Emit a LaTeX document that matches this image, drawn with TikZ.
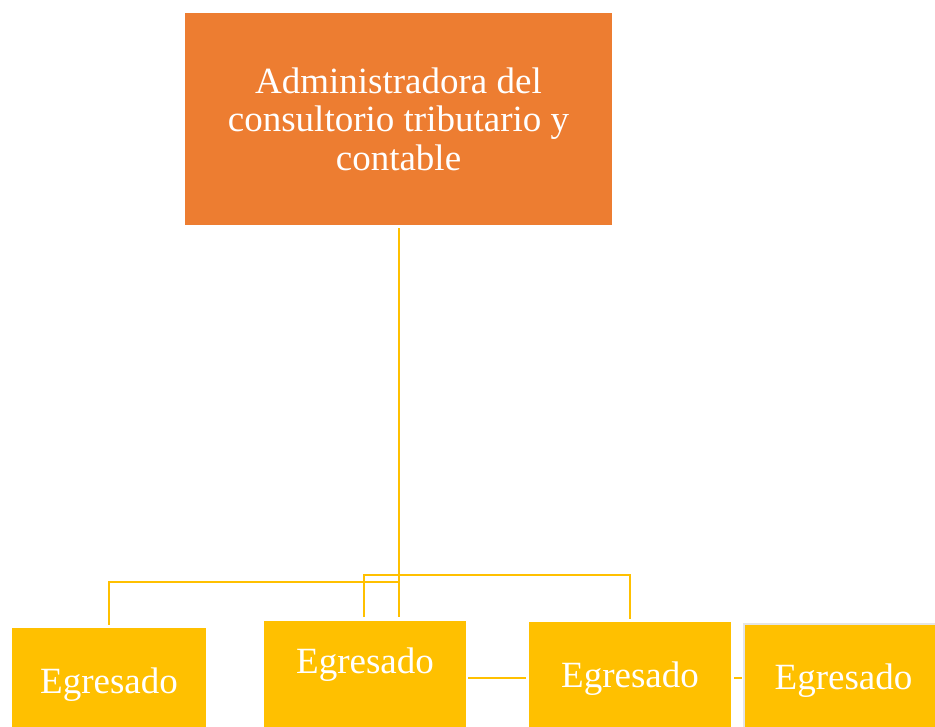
\documentclass[tikz,border=0pt]{standalone}
\usepackage{fontspec}
\setmainfont{Liberation Serif}
\definecolor{orng}{HTML}{ED7D31}
\definecolor{ylw}{HTML}{FFC000}
\begin{document}
\begin{tikzpicture}[x=1pt,y=-1pt,
  bigtext/.style={font=\fontsize{37}{38.5}\selectfont, text=white},
  topbox/.style={fill=orng, inner sep=0pt, minimum width=427pt, minimum height=212pt, align=center, bigtext},
  ybox/.style={fill=ylw, inner sep=0pt, anchor=north west, minimum height=150pt},
  ytext/.style={bigtext, anchor=base, inner sep=0pt},
  conn/.style={draw=ylw, line width=2pt}]
\useasboundingbox (0,0) rectangle (935,727);
\clip (0,0) rectangle (935,727);
\node[topbox] (top) at (398.5,119) {Administradora del\\consultorio tributario y\\contable};
\node[ybox, minimum width=194pt] (b1) at (12,628) {};
\node[ybox, minimum width=202pt] (b2) at (264,621) {};
\node[ybox, minimum width=202pt] (b3) at (529,622) {};
\node[ybox, minimum width=200pt, draw=gray!20, line width=1.5pt] (b4) at (743,623) {};
\node[ytext] (t1) at (109,693) {Egresado};
\node[ytext] (t2) at (365,673) {Egresado};
\node[ytext] (t3) at (630,687) {Egresado};
\node[ytext] (t4) at (843.5,689) {Egresado};
\coordinate (j1) at (398.5,582);
\coordinate (j2) at (364,575);
\coordinate (j3) at (0,678);
\draw[conn, shorten <=3pt, shorten >=4pt] (top.south) -- (top.south |- b2.north);
\draw[conn, shorten >=3pt] (j1) -| (b1.north);
\draw[conn, shorten <=4pt, shorten >=3pt] (b2.north -| j2) -- (j2) -| (b3.north);
\draw[conn, shorten <=2pt, shorten >=3pt] (b2.east |- j3) -- (b3.west |- j3);
\draw[conn, shorten <=3pt, shorten >=1pt] (b3.east |- j3) -- (b4.west |- j3);
\end{tikzpicture}
\end{document}
